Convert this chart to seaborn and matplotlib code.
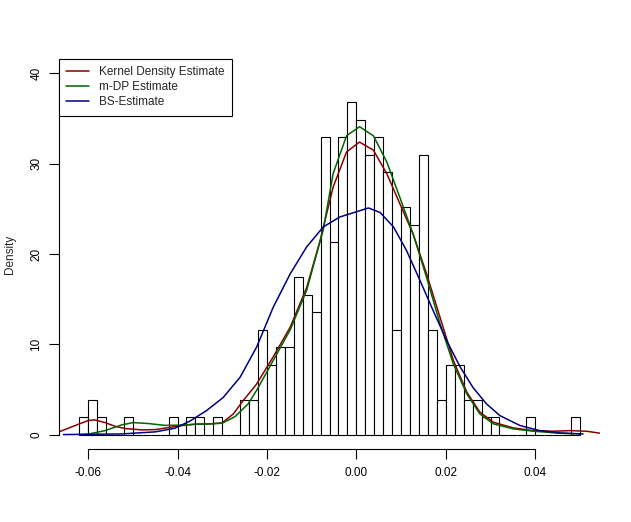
import numpy as np
import pandas as pd
import seaborn as sns
import matplotlib.pyplot as plt
from matplotlib.lines import Line2D

# histogram counts, bins of width 0.002 starting at -0.062
bin_start = -0.062
bin_width = 0.002
counts = [1, 2, 1, 0, 0, 1, 0, 0, 0, 0,
          1, 0, 1, 1, 0, 1, 0, 0, 2, 2,
          6, 4, 5, 5, 9, 8, 7, 17, 11, 17,
          19, 18, 16, 17, 15, 6, 13, 12, 16, 6,
          2, 4, 4, 2, 2, 1, 1, 0, 0, 0,
          1, 0, 0, 0, 0, 1]

# density curves
kde_x = [-0.0665, -0.0629, -0.0600, -0.0586, -0.0562, -0.0540, -0.0517, -0.0480, -0.0450,
         -0.0420, -0.0390, -0.0360, -0.0330, -0.0300, -0.0275, -0.0253, -0.0223, -0.0186,
         -0.0148, -0.0111, -0.0081, -0.0052, -0.0022, 0.0007, 0.0038, 0.0068, 0.0097,
         0.0127, 0.0157, 0.0187, 0.0217, 0.0247, 0.0276, 0.0306, 0.0351, 0.0396, 0.0441,
         0.0478, 0.0515, 0.0545]
kde_y = [0.30, 1.00, 1.55, 1.63, 1.33, 0.92, 0.67, 0.52, 0.55,
         0.78, 1.00, 1.15, 1.18, 1.30, 2.30, 3.77, 5.60, 8.60,
         11.9, 16.3, 21.5, 27.4, 31.3, 32.4, 31.5, 28.9, 25.6,
         22.2, 17.8, 13.0, 8.2, 4.7, 2.5, 1.37, 0.74, 0.44, 0.37,
         0.44, 0.37, 0.15]

mdp_x = [-0.0620, -0.0600, -0.0562, -0.0525, -0.0499, -0.0465, -0.0428, -0.0390, -0.0360,
         -0.0327, -0.0300, -0.0271, -0.0242, -0.0223, -0.0186, -0.0148, -0.0111, -0.0074,
         -0.0052, -0.0022, 0.0007, 0.0038, 0.0068, 0.0097, 0.0127, 0.0157, 0.0187,
         0.0217, 0.0247, 0.0276, 0.0306, 0.0351, 0.0396, 0.0455, 0.0500]
mdp_y = [0.0, 0.05, 0.44, 1.07, 1.33, 1.22, 1.02, 1.05, 1.15,
         1.18, 1.26, 2.0, 3.4, 4.9, 8.2, 11.6, 16.0, 22.7,
         28.9, 33.1, 34.1, 33.1, 30.2, 26.3, 22.2, 17.4, 12.3,
         7.8, 4.5, 2.3, 1.19, 0.63, 0.37, 0.15, 0.07]

bs_x = [-0.0655, -0.0525, -0.0450, -0.0406, -0.0372, -0.0335, -0.0298, -0.0260, -0.0223,
        -0.0186, -0.0148, -0.0111, -0.0074, -0.0037, 0.0027, 0.0053, 0.0083, 0.0112,
        0.0142, 0.0172, 0.0202, 0.0232, 0.0261, 0.0291, 0.0321, 0.0366, 0.0410,
        0.0455, 0.0507]
bs_y = [0.0, 0.07, 0.30, 0.70, 1.50, 2.66, 4.10, 6.35, 9.7,
        14.1, 17.8, 20.8, 23.0, 24.1, 25.1, 24.6, 23.0, 20.4,
        17.1, 13.7, 10.4, 7.5, 5.2, 3.4, 2.1, 1.0, 0.44,
        0.18, 0.07]

labels = ["Kernel Density Estimate", "m-DP Estimate", "BS-Estimate"]
colors = ["#8B0000", "#006400", "#000080"]

edges = [round(bin_start + bin_width * i, 4) for i in range(len(counts) + 1)]
centers = [round(e + bin_width / 2, 4) for e in edges[:-1]]
hist_df = pd.DataFrame({"x": centers, "n": counts})

sns.set_style("ticks")
plt.rcParams["font.family"] = ["Liberation Sans", "DejaVu Sans"]
plt.rcParams["axes.unicode_minus"] = False

fig, ax = plt.subplots(figsize=(6.31, 5.22), dpi=100)
fig.subplots_adjust(left=0.0935, right=0.951, bottom=0.1398, top=0.887)

sns.histplot(data=hist_df, x="x", weights="n", bins=edges, stat="density",
             color="white", edgecolor="black", linewidth=0.8, alpha=1, ax=ax)

for xs, ys, c in zip([kde_x, mdp_x, bs_x], [kde_y, mdp_y, bs_y], colors):
    sns.lineplot(x=xs, y=ys, color=c, linewidth=1.1, sort=False, ax=ax)

ax.set_xlim(-0.0665, 0.0545)
ax.set_ylim(-1.6, 41.6)
ax.set_xticks([-0.06, -0.04, -0.02, 0.00, 0.02, 0.04])
ax.set_xticklabels(["-0.06", "-0.04", "-0.02", "0.00", "0.02", "0.04"])
ax.set_yticks([0, 10, 20, 30, 40])
ax.set_yticklabels(["0", "10", "20", "30", "40"], rotation=90, va="center")
ax.tick_params(axis="x", length=7, width=0.8, pad=6, labelsize=8.5, colors="black")
ax.tick_params(axis="y", length=7, width=0.8, pad=5, labelsize=8.5, colors="black")
sns.despine(ax=ax)
ax.spines["left"].set_bounds(0, 40)
ax.spines["bottom"].set_bounds(-0.06, 0.04)
for s in ["left", "bottom"]:
    ax.spines[s].set_linewidth(0.8)
    ax.spines[s].set_color("black")

ax.set_xlabel("")
ax.set_ylabel("Density", fontsize=8.5)
ax.yaxis.set_label_coords(-0.08, 0.5)

handles = [Line2D([], [], color=c, linewidth=1.1) for c in colors]
leg = ax.legend(handles, labels, loc="upper left", bbox_to_anchor=(0, 1),
                borderaxespad=0, fancybox=False, framealpha=1, edgecolor="black",
                fontsize=8.5, handlelength=1.9, labelspacing=0.25, borderpad=0.62,
                handletextpad=0.85, handleheight=0.7)
leg.get_frame().set_linewidth(0.8)

plt.savefig("out.png", dpi=100)
